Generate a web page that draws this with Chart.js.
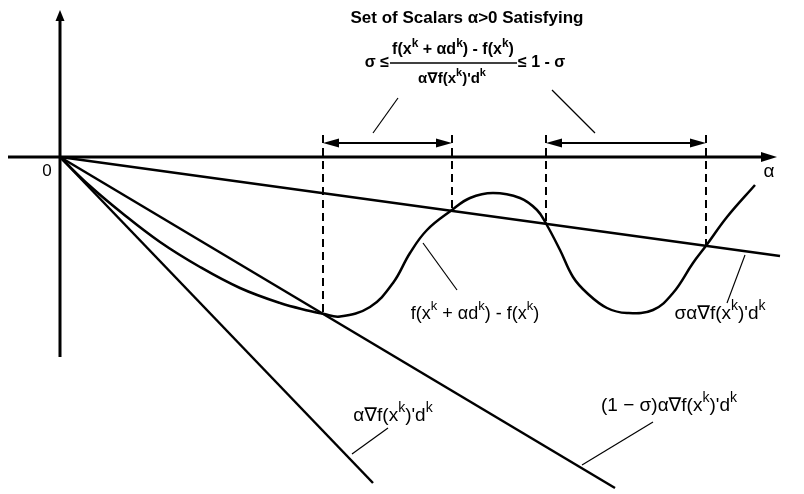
<!DOCTYPE html>
<html lang="en">
<head>
    <meta charset="UTF-8">
    <title>Armijo-Goldstein step size rule</title>
    <script src="https://cdn.jsdelivr.net/npm/chart.js"></script>
    <style>
        body { margin: 0; background: #fff; }
        #wrap { width: 804px; height: 494px; }
    </style>
</head>
<body>
<div id="wrap"><canvas id="grafica" width="804" height="494"></canvas></div>
<script>
    // f(x^k + a d^k) - f(x^k) sampled along the step a
    const curveAlpha = [0, 0.3, 0.62, 1.0, 1.4, 1.8, 2.2, 2.5, 2.63, 2.8, 3.1, 3.33, 3.5, 3.67, 3.92, 4.1, 4.33, 4.6, 4.77, 4.86, 5.0, 5.13, 5.27, 5.47, 5.67, 5.93, 6.13, 6.33, 6.46, 6.67, 6.95];
    const curveValue = [0, -0.29, -0.56, -0.85, -1.10, -1.31, -1.46, -1.54, -1.568, -1.595, -1.50, -1.26, -0.96, -0.73, -0.53, -0.41, -0.36, -0.41, -0.53, -0.665, -0.93, -1.20, -1.36, -1.51, -1.56, -1.53, -1.36, -1.06, -0.888, -0.60, -0.28];

    // far ends of the three rays leaving the origin
    const fullEnd = [3.13, -3.26];      // a grad f'd
    const oneMinusEnd = [5.55, -3.31];  // (1 - s) a grad f'd
    const sigmaEnd = [7.2, -0.99];      // s a grad f'd

    // where the curve meets the two bounding rays
    const crossAlpha = [2.63, 3.92, 4.86, 6.46];
    const crossValue = [-1.568, -0.53, -0.665, -0.888];

    const dashTop = 0.22;
    const arrowLevel = 0.14;

    const FONT = '"Liberation Sans", "DejaVu Sans", Arial, sans-serif';

    function ray(end) {
        return [{ x: 0, y: 0 }, { x: end[0], y: end[1] }];
    }

    const datasets = [
        { data: curveAlpha.map((a, i) => ({ x: a, y: curveValue[i] })), tension: 0.4, borderWidth: 2.5 },
        { data: ray(fullEnd), borderWidth: 2.5 },
        { data: ray(oneMinusEnd), borderWidth: 2.5 },
        { data: ray(sigmaEnd), borderWidth: 2.5 }
    ];
    crossAlpha.forEach((a, i) => {
        datasets.push({
            data: [{ x: a, y: dashTop }, { x: a, y: crossValue[i] }],
            borderWidth: 2,
            borderDash: [8, 5]
        });
    });
    datasets.forEach(d => {
        d.showLine = true;
        d.borderColor = '#000';
        d.pointRadius = 0;
        d.fill = false;
    });

    function punta(ctx, tx, ty, dx, dy, largo, ancho) {
        const px = -dy, py = dx;
        ctx.beginPath();
        ctx.moveTo(tx, ty);
        ctx.lineTo(tx - dx * largo + px * ancho, ty - dy * largo + py * ancho);
        ctx.lineTo(tx - dx * largo - px * ancho, ty - dy * largo - py * ancho);
        ctx.closePath();
        ctx.fill();
    }

    function linea(ctx, x1, y1, x2, y2, w) {
        ctx.lineWidth = w;
        ctx.beginPath();
        ctx.moveTo(x1, y1);
        ctx.lineTo(x2, y2);
        ctx.stroke();
    }

    // text with superscript pieces: parts = [[texto, esSuper], ...]
    function texto(ctx, parts, x, y, size, weight, align) {
        const supSize = Math.round(size * 0.74);
        let w = 0;
        parts.forEach(p => {
            ctx.font = weight + ' ' + (p[1] ? supSize : size) + 'px ' + FONT;
            w += ctx.measureText(p[0]).width;
        });
        let cx = align === 'center' ? x - w / 2 : (align === 'right' ? x - w : x);
        ctx.textAlign = 'left';
        ctx.textBaseline = 'middle';
        parts.forEach(p => {
            ctx.font = weight + ' ' + (p[1] ? supSize : size) + 'px ' + FONT;
            ctx.fillText(p[0], cx, p[1] ? y - size * 0.42 : y);
            cx += ctx.measureText(p[0]).width;
        });
    }

    const dibujo = {
        id: 'dibujo',
        afterDatasetsDraw(chart) {
            const ctx = chart.ctx;
            const sx = chart.scales.x, sy = chart.scales.y;
            const X = v => sx.getPixelForValue(v);
            const Y = v => sy.getPixelForValue(v);
            ctx.save();
            ctx.strokeStyle = '#000';
            ctx.fillStyle = '#000';

            // axes
            linea(ctx, X(-0.52), Y(0), X(7.05), Y(0), 3);
            punta(ctx, X(7.17), Y(0), 1, 0, 16, 5);
            linea(ctx, X(0), Y(-2.0), X(0), Y(1.38), 3);
            punta(ctx, X(0), Y(1.47), 0, -1, 11, 4.5);

            // intervals of acceptable step sizes
            [[0, 1], [2, 3]].forEach(par => {
                const a = X(crossAlpha[par[0]]), b = X(crossAlpha[par[1]]);
                const yy = Y(arrowLevel);
                linea(ctx, a + 10, yy, b - 10, yy, 2);
                punta(ctx, a, yy, -1, 0, 16, 4.5);
                punta(ctx, b, yy, 1, 0, 16, 4.5);
            });

            // leader lines
            linea(ctx, 373, 133, 398, 98, 1.2);
            linea(ctx, 552, 90, 595, 133, 1.2);
            linea(ctx, 423, 243, 457, 290, 1.2);
            linea(ctx, 745, 255, 727, 303, 1.2);
            linea(ctx, 653, 422, 582, 465, 1.2);
            linea(ctx, 388, 428, 352, 454, 1.2);

            // heading and the ratio condition
            texto(ctx, [['Set of Scalars α>0 Satisfying', 0]], 467, 18, 17, 'bold', 'center');
            texto(ctx, [['σ ≤', 0]], 389, 63, 16, 'bold', 'right');
            texto(ctx, [['f(x', 0], ['k', 1], [' + αd', 0], ['k', 1], [') - f(x', 0], ['k', 1], [')', 0]], 453, 50, 16, 'bold', 'center');
            linea(ctx, 390, 63, 517, 63, 1.5);
            texto(ctx, [['α∇f(x', 0], ['k', 1], [')\'d', 0], ['k', 1]], 452, 79, 15, 'bold', 'center');
            texto(ctx, [['≤ 1 - σ', 0]], 518, 63, 16, 'bold', 'left');

            // curve and ray labels
            texto(ctx, [['f(x', 0], ['k', 1], [' + αd', 0], ['k', 1], [') - f(x', 0], ['k', 1], [')', 0]], 475, 314, 18, 'normal', 'center');
            texto(ctx, [['σα∇f(x', 0], ['k', 1], [')\'d', 0], ['k', 1]], 720, 314, 19, 'normal', 'center');
            texto(ctx, [['(1 − σ)α∇f(x', 0], ['k', 1], [')\'d', 0], ['k', 1]], 669, 406, 19, 'normal', 'center');
            texto(ctx, [['α∇f(x', 0], ['k', 1], [')\'d', 0], ['k', 1]], 393, 416, 19, 'normal', 'center');

            texto(ctx, [['0', 0]], 47, 171, 17, 'normal', 'center');
            texto(ctx, [['α', 0]], 769, 172, 19, 'normal', 'center');
            ctx.restore();
        }
    };

    new Chart(document.getElementById('grafica').getContext('2d'), {
        type: 'scatter',
        data: { datasets: datasets },
        options: {
            responsive: false,
            animation: false,
            layout: { padding: 0 },
            plugins: { legend: { display: false }, tooltip: { enabled: false } },
            scales: {
                x: { type: 'linear', display: false, min: -0.6, max: 7.44 },
                y: { type: 'linear', display: false, min: -3.37, max: 1.57 }
            }
        },
        plugins: [dibujo]
    });
</script>
</body>
</html>
